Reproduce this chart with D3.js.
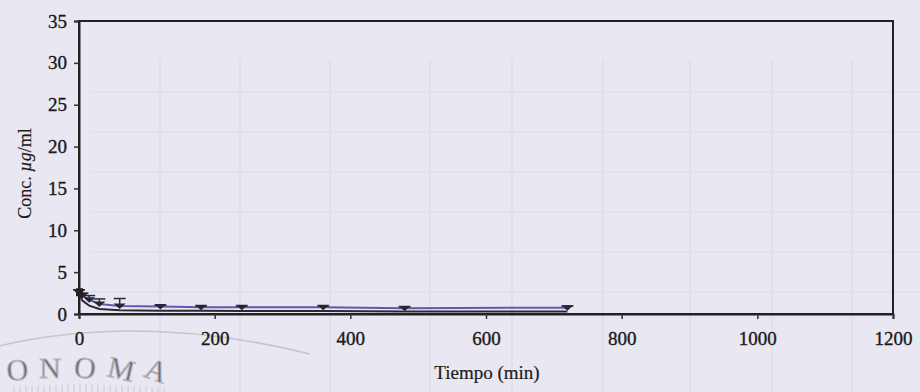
<!DOCTYPE html>
<html>
<head>
<meta charset="utf-8">
<script src="https://cdn.jsdelivr.net/npm/d3@7"></script>
<style>
  html, body { margin: 0; padding: 0; background: #e9e7f1; }
  svg { display: block; }
  text { font-family: "Liberation Serif", "DejaVu Serif", serif; fill: #1c1c1c; }
</style>
</head>
<body>
<svg id="chart" width="920" height="392"></svg>
<script>
// Sampling times (min) and mean concentrations (µg/ml)
const times = [0, 5, 15, 30, 60, 120, 180, 240, 360, 480, 720];
const meanConc = [2.6, 2.2, 1.7, 1.2, 0.95, 0.9, 0.8, 0.8, 0.8, 0.7, 0.75];
const errUpper = [0.3, 0.3, 0.5, 0.6, 0.9, 0.15, 0.15, 0.15, 0.15, 0.15, 0.2];
const lowerConc = [2.4, 1.6, 1.0, 0.6, 0.45, 0.4, 0.4, 0.35, 0.35, 0.3, 0.3];
const xTicks = [0, 200, 400, 600, 800, 1000, 1200];
const yTicks = [0, 5, 10, 15, 20, 25, 30, 35];

const svg = d3.select("#chart");
const m = { left: 79, right: 893, top: 21, bottom: 314 };

const x = d3.scaleLinear().domain([0, 1200]).range([m.left, m.right]);
const y = d3.scaleLinear().domain([0, 35]).range([m.bottom, m.top]);

// faint ruled paper showing through the page
const ruleX = [160, 240, 330, 430, 512, 603, 690, 772, 852];
const ruleY = [92, 132, 172, 212, 252, 292];
svg.append("g").selectAll("line.rv").data(ruleX).join("line")
  .attr("x1", d => d).attr("x2", d => d).attr("y1", 60).attr("y2", 392)
  .attr("stroke", "#e1dfea").attr("stroke-width", 2);
svg.append("g").selectAll("line.rh").data(ruleY).join("line")
  .attr("x1", 90).attr("x2", 920).attr("y1", d => d).attr("y2", d => d)
  .attr("stroke", "#e3e1ec").attr("stroke-width", 2);

// library seal at lower left, one letter at a time along its curve
const sealLetters = [
  { c: "O", x: 18, y: 380, r: -4 },
  { c: "N", x: 50, y: 378, r: 0 },
  { c: "O", x: 84, y: 378, r: 6 },
  { c: "M", x: 119, y: 379, r: 13 },
  { c: "A", x: 153, y: 380, r: 20 }
];
const seal = svg.append("g").attr("opacity", 0.6);
seal.append("path")
  .attr("d", "M-5,347 Q140,312 310,354")
  .attr("fill", "none").attr("stroke", "#b0aeb8").attr("stroke-width", 1.5);
seal.selectAll("text").data(sealLetters).join("text")
  .attr("transform", d => `translate(${d.x},${d.y}) rotate(${d.r})`)
  .attr("text-anchor", "middle").attr("font-size", 30)
  .attr("fill", "none").attr("stroke", "#9a98a3").attr("stroke-width", 1)
  .text(d => d.c);
seal.append("g").selectAll("line").data(d3.range(14, 170, 6)).join("line")
  .attr("x1", d => d).attr("x2", d => d)
  .attr("y1", d => 384 + Math.abs(d - 80) * 0.04).attr("y2", 392)
  .attr("stroke", "#b8b6c0").attr("stroke-width", 1);

// plot frame
svg.append("rect")
  .attr("x", m.left).attr("y", m.top)
  .attr("width", m.right - m.left).attr("height", m.bottom - m.top)
  .attr("fill", "none").attr("stroke", "#222").attr("stroke-width", 2);

// axes
const yAxis = svg.append("g")
  .attr("transform", `translate(${m.left},0)`)
  .call(d3.axisLeft(y).tickValues(yTicks).tickSize(5).tickPadding(7).tickFormat(d3.format("d")));
const xAxis = svg.append("g")
  .attr("transform", `translate(0,${m.bottom})`)
  .call(d3.axisBottom(x).tickValues(xTicks).tickSize(5).tickPadding(13).tickFormat(d3.format("d")));
[yAxis, xAxis].forEach(a => {
  a.select(".domain").attr("stroke", "#222").attr("stroke-width", 2);
  a.selectAll(".tick line").attr("stroke", "#333").attr("stroke-width", 1.5);
  a.selectAll(".tick text").attr("font-size", 19)
    .attr("font-family", "Liberation Serif, serif").attr("fill", "#141414")
    .attr("stroke", "#141414").attr("stroke-width", 0.35);
});

// axis titles
svg.append("text")
  .attr("transform", `translate(31,${(m.top + m.bottom) / 2 + 6}) rotate(-90)`)
  .attr("text-anchor", "middle").attr("font-size", 18)
  .attr("stroke", "#1c1c1c").attr("stroke-width", 0.2)
  .html('Conc. <tspan font-style="italic">µg</tspan>/ml');
svg.append("text")
  .attr("x", 487).attr("y", 379).attr("text-anchor", "middle")
  .attr("font-size", 19).attr("stroke", "#1c1c1c").attr("stroke-width", 0.2)
  .text("Tiempo (min)");

// data
const pts = times.map((t, i) => ({ t, v: meanConc[i], e: errUpper[i], lo: lowerConc[i] }));

svg.append("path").datum(pts)
  .attr("d", d3.line().x(d => x(d.t)).y(d => y(d.lo)))
  .attr("fill", "none").attr("stroke", "#2a2a30").attr("stroke-width", 2);

svg.append("path").datum(pts)
  .attr("d", d3.line().x(d => x(d.t)).y(d => y(d.v)))
  .attr("fill", "none").attr("stroke", "#5a5cb2").attr("stroke-width", 2);

// error bars
const eb = svg.append("g").attr("stroke", "#2a2a38").attr("stroke-width", 1.5);
eb.selectAll("line.v").data(pts).join("line")
  .attr("x1", d => x(d.t)).attr("x2", d => x(d.t))
  .attr("y1", d => y(d.v)).attr("y2", d => y(d.v + d.e));
eb.selectAll("line.c").data(pts).join("line")
  .attr("x1", d => x(d.t) - 6).attr("x2", d => x(d.t) + 6)
  .attr("y1", d => y(d.v + d.e)).attr("y2", d => y(d.v + d.e));

// markers
svg.append("g").selectAll("path").data(pts).join("path")
  .attr("transform", d => `translate(${x(d.t)},${y(d.v)})`)
  .attr("d", "M-6,-2.5L6,-2.5L0,3Z")
  .attr("fill", "#252535");
svg.append("rect")
  .attr("x", x(0) - 3).attr("y", y(meanConc[0]) - 4)
  .attr("width", 7).attr("height", 8).attr("fill", "#2a1e1e");
</script>
</body>
</html>
